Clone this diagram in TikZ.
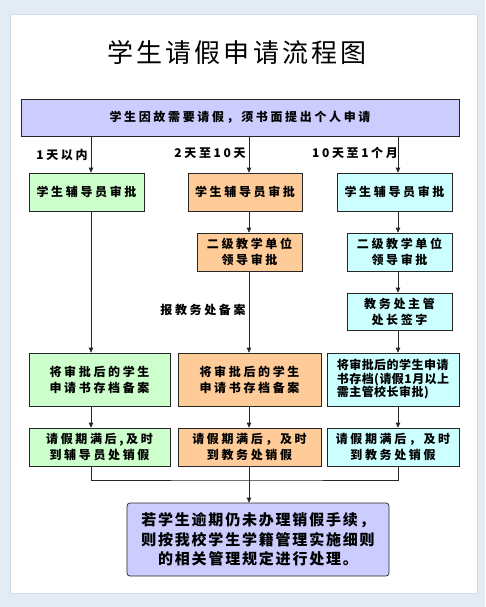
\documentclass[tikz,border=0pt]{standalone}
\usepackage{fontspec}
\setmainfont{Noto Sans CJK SC}[LetterSpace=22]
\newfontfamily\cjktitle{Noto Sans CJK SC}[LetterSpace=12]
\newfontfamily\cjknarrow{Noto Sans CJK SC}[LetterSpace=4]
\newfontfamily\cjkfinal{Noto Sans CJK SC}[LetterSpace=12]
\usetikzlibrary{arrows.meta}
\definecolor{bgblue}{RGB}{227,235,243}
\definecolor{frameblue}{RGB}{205,220,235}
\definecolor{lavender}{RGB}{204,204,255}
\definecolor{greenbox}{RGB}{204,255,204}
\definecolor{orangebox}{RGB}{255,204,153}
\definecolor{cyanbox}{RGB}{204,255,255}
\begin{document}
\begin{tikzpicture}[x=1pt,y=-1pt,
		box/.style={draw=black!85,line width=0.7pt,inner sep=0pt,align=center,
			font=\fontsize{12}{16}\selectfont\bfseries},
		lbl/.style={font=\fontsize{12}{14}\selectfont\bfseries},
		arr/.style={draw=black!85,line width=0.7pt,-{Triangle[length=5pt,width=4.5pt]}},
		ln/.style={draw=black!85,line width=0.7pt}]
		\useasboundingbox (0,0) rectangle (485,607);
		\fill[bgblue] (0,0) rectangle (485,607);
		\filldraw[fill=white,draw=frameblue,line width=1pt] (10,15) rectangle (477,593);
		\node[font=\fontsize{26}{30}\selectfont\cjktitle] (title) at (237,53) {学生请假申请流程图};
		\coordinate (cA) at (91,0);
		\coordinate (cB) at (249,0);
		\coordinate (cC) at (398,0);
		\coordinate (m) at (249,480);
		\node[box,fill=lavender,minimum width=438,minimum height=37] (top) at (240,117.5) {学生因故需要请假，须书面提出个人申请};
		\node[box,fill=greenbox,minimum width=115,minimum height=38] (g1) at (86.5,192) {学生辅导员审批};
		\node[box,fill=orangebox,minimum width=114,minimum height=38] (o1) at (245,192) {学生辅导员审批};
		\node[box,fill=cyanbox,minimum width=115,minimum height=38] (c1) at (394.5,192) {学生辅导员审批};
		\node[box,fill=orangebox,minimum width=105,minimum height=38] (o2) at (249.5,252) {二级教学单位\\领导审批};
		\node[box,fill=cyanbox,minimum width=105,minimum height=38] (c2) at (399.5,252) {二级教学单位\\领导审批};
		\node[box,fill=cyanbox,minimum width=105,minimum height=37] (c3) at (399.5,311.5) {教务处主管\\处长签字};
		\node[box,fill=greenbox,minimum width=141,minimum height=53] (g4) at (99.5,379.5) {将审批后的学生\\申请书存档备案};
		\node[box,fill=orangebox,minimum width=143,minimum height=53] (o4) at (249.5,379.5) {将审批后的学生\\申请书存档备案};
		\node[box,fill=cyanbox,minimum width=132,minimum height=53,align=left,
			font=\fontsize{12}{13.5}\selectfont\cjknarrow\bfseries] (c4) at (393,379.5) {将审批后的学生申请\\书存档(请假1月以上\\需主管校长审批)};
		\node[box,fill=greenbox,minimum width=141,minimum height=38] (g5) at (99.5,447) {请假期满后,及时\\到辅导员处销假};
		\node[box,fill=orangebox,minimum width=143,minimum height=38] (o5) at (249.5,447) {请假期满后，及时\\到教务处销假};
		\node[box,fill=cyanbox,minimum width=132,minimum height=38] (c5) at (393,447) {请假期满后，及时\\到教务处销假};
		\node[box,fill=lavender,rounded corners=3pt,minimum width=262,minimum height=73,
			font=\fontsize{15}{19.5}\selectfont\cjkfinal\bfseries] (final) at (258,539.5) {若学生逾期仍未办理销假手续，\\则按我校学生学籍管理实施细则\\的相关管理规定进行处理。};
		\node[lbl] (d1) at (62,155) {1天以内};
		\node[lbl] (d2) at (210,153) {2天至10天};
		\node[lbl] (d3) at (355,153) {10天至1个月};
		\node[lbl] (rec) at (203,310) {报教务处备案};
		\draw[arr] (top.south -| cA) -- (g1.north -| cA);
		\draw[arr] (top.south -| cB) -- (o1.north -| cB);
		\draw[arr] (top.south -| cC) -- (c1.north -| cC);
		\draw[arr] (g1.south -| cA) -- (g4.north -| cA);
		\draw[arr] (g4.south -| cA) -- (g5.north -| cA);
		\draw[arr] (o1.south -| cB) -- (o2.north -| cB);
		\draw[arr] (o2.south -| cB) -- (o4.north -| cB);
		\draw[arr] (o4.south -| cB) -- (o5.north -| cB);
		\draw[arr] (c1.south -| cC) -- (c2.north -| cC);
		\draw[arr] (c2.south -| cC) -- (c3.north -| cC);
		\draw[arr] (c3.south -| cC) -- (c4.north -| cC);
		\draw[arr] (c4.south -| cC) -- (c5.north -| cC);
		\draw[ln] (g5.south -| cA) |- (m) -| (c5.south -| cC);
		\draw[ln] (o5.south -| cB) -- (m);
		\draw[arr] (m) -- (final.north -| cB);
		\end{tikzpicture}
\end{document}
